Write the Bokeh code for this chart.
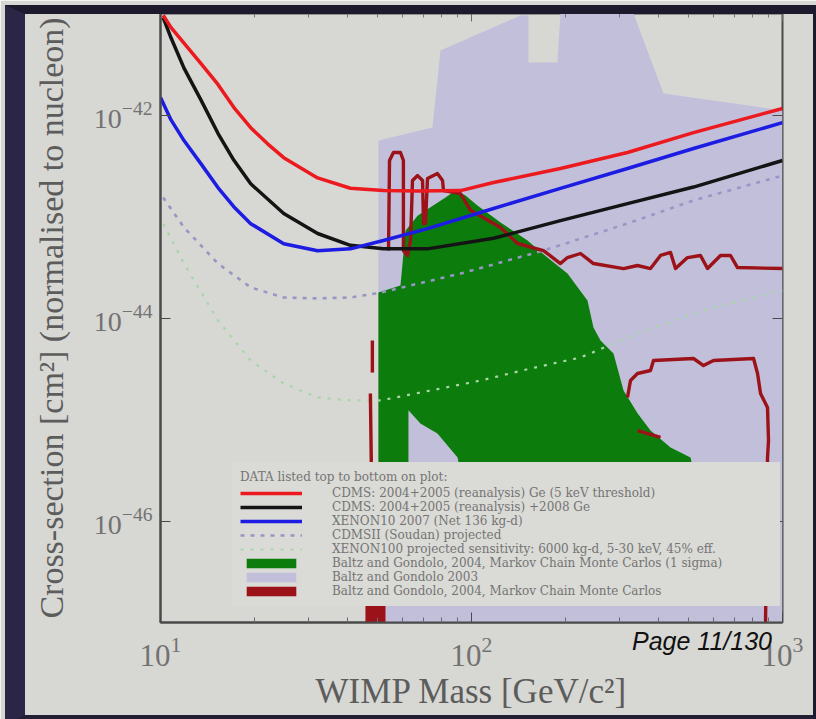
from bokeh.plotting import figure
from bokeh.layouts import column
from bokeh.models import (LogAxis, FixedTicker, Legend, LegendItem, Range1d,
                          CustomJSTickFormatter, Div)
from bokeh.embed import file_html
from bokeh.resources import INLINE

# ---------------- data (WIMP mass in GeV/c^2, cross-section in cm^2) ----------------
x_ticks = [10, 100, 1000]
x_minor = [20, 30, 40, 50, 60, 70, 80, 90, 200, 300, 400, 500, 600, 700, 800, 900]
y_ticks = [1e-46, 1e-44, 1e-42]

# CDMS 2004+2005 (reanalysis) Ge (5 keV threshold) - red
red_mass = [10.2, 10.8, 11.9, 13.5, 15.3, 17.2, 19.5, 22.1, 24.9, 32.0, 40.8, 52.1,
            67.1, 92.2, 117.7, 193.2, 317.4, 517.4, 1000]
red_xsec = [9.6e-42, 7.3e-42, 5.1e-42, 3.2e-42, 2.0e-42, 1.19e-42, 7.5e-43, 5.2e-43,
            3.8e-43, 2.4e-43, 1.9e-43, 1.8e-43, 1.78e-43, 1.8e-43, 2.16e-43, 2.97e-43,
            4.27e-43, 6.7e-43, 1.16e-42]

# CDMS 2004+2005 (reanalysis) + 2008 Ge - black
black_mass = [10.2, 10.8, 11.9, 13.5, 15.3, 17.2, 19.5, 24.9, 32.0, 40.8, 52.1, 72.2,
              117.7, 193.2, 317.4, 517.4, 1000]
black_xsec = [9.1e-42, 5.8e-42, 2.9e-42, 1.4e-42, 6.6e-43, 3.6e-43, 2.1e-43, 1.07e-43,
              6.8e-44, 5.2e-44, 4.8e-44, 4.8e-44, 6.1e-44, 9.1e-44, 1.34e-43, 1.95e-43,
              3.56e-43]

# XENON10 2007 (Net 136 kg-d) - blue
blue_mass = [10.0, 10.8, 11.9, 13.5, 15.3, 17.2, 19.5, 24.9, 32.0, 40.8, 52.1, 72.2,
             117.7, 193.2, 317.4, 517.4, 1000]
blue_xsec = [1.49e-42, 9.0e-43, 5.6e-43, 3.3e-43, 1.93e-43, 1.25e-43, 8.5e-44, 5.4e-44,
             4.6e-44, 4.8e-44, 5.8e-44, 7.6e-44, 1.2e-43, 1.89e-43, 2.97e-43, 4.68e-43,
             8.4e-43]

# CDMSII (Soudan) projected - dotted
cdms_proj_mass = [10.2, 11.9, 15.3, 19.5, 24.9, 32.0, 40.8, 51.0, 92.2, 170.4, 317.4,
                  517.4, 1000]
cdms_proj_xsec = [1.54e-43, 7.8e-44, 3.44e-44, 2.0e-44, 1.59e-44, 1.56e-44, 1.59e-44,
                  1.78e-44, 2.74e-44, 4.62e-44, 8.53e-44, 1.44e-43, 2.53e-43]

# XENON100 projected sensitivity - green dotted
xenon100_mass = [10.2, 11.9, 15.3, 19.5, 24.9, 32.0, 40.8, 51.0, 73.8, 106.9, 154.8,
                 224.1, 341.8, 557.2, 1000]
xenon100_xsec = [8.5e-44, 3.44e-44, 9.45e-45, 3.81e-45, 2.26e-45, 1.65e-45, 1.54e-45,
                 1.54e-45, 1.93e-45, 2.42e-45, 3.18e-45, 4.08e-45, 7.04e-45, 1.19e-44,
                 1.87e-44]

# Baltz and Gondolo 2003 - lavender region
bg2003_mass = [50.2, 50.2, 74.9, 79.5, 143.8, 152.5, 152.5, 189.0, 193.2, 331.8, 414.4,
               1000, 1000]
bg2003_xsec = [1e-47, 5.61e-43, 7.53e-43, 4.32e-42, 9.56e-42, 9.56e-42, 3.29e-42,
               3.29e-42, 1e-41, 1e-41, 1.63e-42, 1.11e-42, 1e-47]

# Baltz and Gondolo 2004, MCMC (1 sigma) - green region
bg2004_1s_mass = [50.2, 50.2, 59.1, 61.4, 67.1, 73.8, 82.5, 88.8, 95.7, 104.5, 124.0,
                  151.4, 175.5, 203.5, 236.0, 246.7, 259.9, 286.1, 308.2, 341.8, 376.3,
                  436.5, 506.0, 565.5, 99.3, 90.2, 77.7, 68.5, 62.7, 62.7]
bg2004_1s_xsec = [1.01e-46, 1.78e-44, 2.09e-44, 7.28e-44, 1.02e-43, 1.23e-43, 1.54e-43,
                  1.80e-43, 1.61e-43, 1.28e-43, 8.73e-44, 5.80e-44, 3.94e-44, 2.74e-44,
                  1.49e-44, 8.06e-45, 6.00e-45, 4.47e-45, 1.93e-45, 1.15e-45, 7.79e-46,
                  5.30e-46, 4.22e-46, 1.01e-46, 1.01e-46, 4.22e-46, 7.28e-46, 9.13e-46,
                  1.23e-45, 1.01e-46]

# Baltz and Gondolo 2004, MCMC - dark red contours and filled piece
mcmc_a_mass = [54.1, 54.5, 56.1, 59.1, 60.4, 60.4, 62.3, 63.7, 64.6, 67.1, 69.6, 70.1,
               71.1, 72.2, 77.7, 80.7, 81.3, 92.2, 99.3, 124.0, 140.6, 170.4, 193.2,
               203.5, 224.1, 246.7, 308.2, 341.8, 376.3, 405.3, 436.5, 452.9, 494.9,
               544.9, 574.0, 631.9, 680.5, 716.7, 1000]
mcmc_a_xsec = [4.62e-44, 3.56e-43, 4.27e-43, 4.27e-43, 3.56e-43, 4.62e-44, 4.13e-44,
               5.80e-44, 2.26e-43, 2.53e-43, 2.26e-43, 8.53e-44, 8.53e-44, 2.37e-43,
               2.65e-43, 2.26e-43, 1.80e-43, 1.68e-43, 1.15e-43, 7.79e-44, 5.42e-44,
               4.62e-44, 3.44e-44, 3.94e-44, 4.32e-44, 3.44e-44, 3.07e-44, 3.29e-44,
               3.07e-44, 4.13e-44, 4.42e-44, 3.07e-44, 3.94e-44, 4.13e-44, 3.07e-44,
               4.13e-44, 4.13e-44, 3.14e-44, 3.07e-44]
mcmc_b1_mass = [48.0, 48.0]
mcmc_b1_xsec = [6.0e-45, 2.9e-45]
mcmc_b2_mass = [47.3, 47.6, 48.0]
mcmc_b2_xsec = [1.8e-45, 4.2e-46, 1e-47]
mcmc_c_mass = [317.4, 324.5, 341.8, 376.3, 384.8, 517.4, 557.2, 600.1, 807.1, 831.3,
               849.9, 895.0, 901.6, 895.0, 881.9]
mcmc_c_xsec = [1.65e-45, 2.42e-45, 2.84e-45, 3.04e-45, 3.81e-45, 3.99e-45, 3.40e-45,
               3.81e-45, 3.99e-45, 2.84e-45, 1.80e-45, 1.31e-45, 6.21e-46, 4.22e-46,
               1e-47]
mcmc_d_mass = [341.8, 405.3]
mcmc_d_xsec = [7.79e-46, 6.65e-46]
mcmc_fill_mass = [45.6, 45.6, 52.9, 52.9]
mcmc_fill_xsec = [1e-47, 1.5e-47, 1.5e-47, 1e-47]

legend_title = "DATA listed top to bottom on plot:"
labels = [
    "CDMS: 2004+2005 (reanalysis) Ge (5 keV threshold)",
    "CDMS: 2004+2005 (reanalysis) +2008 Ge",
    "XENON10 2007 (Net 136 kg-d)",
    "CDMSII (Soudan) projected",
    "XENON100 projected sensitivity: 6000 kg-d, 5-30 keV, 45% eff.",
    "Baltz and Gondolo, 2004, Markov Chain Monte Carlos (1 sigma)",
    "Baltz and Gondolo 2003",
    "Baltz and Gondolo, 2004, Markov Chain Monte Carlos",
]
page_text = "Page 11/130"

# ---------------- styling ----------------
PAPER = "#d7d7d3"
LAVENDER = "#c2bfdb"
GREEN = "#0c7c0c"
DARKRED = "#9c1219"
RED = "#ec1a1e"
BLUE = "#1c1ce2"
BLACK = "#141414"
SERIF = "Liberation Serif"
W, H = 816, 719

p = figure(width=W, height=H, x_axis_type="log", y_axis_type="log",
           x_range=Range1d(10, 1000), y_range=Range1d(1e-47, 1e-41),
           output_backend="svg", toolbar_location=None,
           min_border_left=160, min_border_right=34, min_border_top=13,
           min_border_bottom=97)
p.border_fill_color = PAPER
p.background_fill_color = PAPER
p.outline_line_color = "#4a4a4a"
p.outline_line_width = 2
p.grid.visible = False

# regions
r_lav = p.patch(bg2003_mass, bg2003_xsec, fill_color=LAVENDER, line_color=None)
r_green = p.patch(bg2004_1s_mass, bg2004_1s_xsec, fill_color=GREEN, line_color=None)

# projected (dotted)
r_x100 = p.line(xenon100_mass, xenon100_xsec, line_color="#a9d6a9", line_width=2.2,
                line_dash="3 7")
r_cproj = p.line(cdms_proj_mass, cdms_proj_xsec, line_color="#9797c6", line_width=2.6,
                 line_dash="4 6")

# MCMC contours
r_mcmc = p.multi_line(
    [mcmc_a_mass, mcmc_b1_mass, mcmc_b2_mass, mcmc_c_mass, mcmc_d_mass],
    [mcmc_a_xsec, mcmc_b1_xsec, mcmc_b2_xsec, mcmc_c_xsec, mcmc_d_xsec],
    line_color=DARKRED, line_width=3.4, line_join="round")
r_mcmc_fill = p.patch(mcmc_fill_mass, mcmc_fill_xsec, fill_color=DARKRED, line_color=None)

# limits
r_black = p.line(black_mass, black_xsec, line_color=BLACK, line_width=3.5)
r_blue = p.line(blue_mass, blue_xsec, line_color=BLUE, line_width=3.5)
r_red = p.line(red_mass, red_xsec, line_color=RED, line_width=3.5)

# axes
p.xaxis.ticker = FixedTicker(ticks=x_ticks, minor_ticks=x_minor)
p.yaxis.ticker = FixedTicker(ticks=y_ticks, minor_ticks=[])
for ax in (p.xaxis[0], p.yaxis[0]):
    ax.axis_line_color = "#4a4a4a"
    ax.axis_line_width = 2
    ax.major_tick_in = 10
    ax.major_tick_out = 0
    ax.minor_tick_in = 5
    ax.minor_tick_out = 0
    ax.major_tick_line_color = "#4a4a4a"
    ax.minor_tick_line_color = "#6a6a6a"
    ax.major_label_text_font = SERIF
    ax.major_label_text_color = "#727272"
    ax.axis_label_text_font = SERIF
    ax.axis_label_text_font_style = "normal"
    ax.axis_label_text_color = "#5c5c5c"
p.xaxis.major_label_text_font_size = "31px"
p.yaxis.major_label_text_font_size = "28px"
p.xaxis.axis_label_text_font_size = "35px"
p.yaxis.axis_label_text_font_size = "34px"
p.xaxis.axis_label = "WIMP Mass [GeV/c²]"
p.yaxis.axis_label = "Cross-section [cm²] (normalised to nucleon)"
p.xaxis.major_label_standoff = 14
p.xaxis.axis_label_standoff = 3
p.yaxis.major_label_standoff = 8
p.yaxis.axis_label_standoff = 21

blank = CustomJSTickFormatter(code="return ''")
top_ax = LogAxis(ticker=FixedTicker(ticks=x_ticks, minor_ticks=x_minor),
                 formatter=blank, major_label_standoff=0,
                 major_tick_in=8, major_tick_out=0, minor_tick_in=4, minor_tick_out=0,
                 axis_line_color=None, major_tick_line_color="#6a6a6a",
                 minor_tick_line_color="#7a7a7a")
right_ax = LogAxis(ticker=FixedTicker(ticks=y_ticks, minor_ticks=[]),
                   formatter=blank, major_label_standoff=0,
                   major_tick_in=10, major_tick_out=0, minor_tick_in=0, minor_tick_out=0,
                   axis_line_color=None, major_tick_line_color="#4a4a4a")
p.add_layout(top_ax, "above")
p.add_layout(right_ax, "right")

# legend
items = [
    LegendItem(label=labels[0], renderers=[r_red]),
    LegendItem(label=labels[1], renderers=[r_black]),
    LegendItem(label=labels[2], renderers=[r_blue]),
    LegendItem(label=labels[3], renderers=[r_cproj]),
    LegendItem(label=labels[4], renderers=[r_x100]),
    LegendItem(label=labels[5], renderers=[r_green]),
    LegendItem(label=labels[6], renderers=[r_lav]),
    LegendItem(label=labels[7], renderers=[r_mcmc_fill]),
]
legend = Legend(items=items, location=(72, 16), title=legend_title,
                title_text_font="DejaVu Serif", title_text_font_size="12px",
                title_text_font_style="normal", title_text_color="#747474",
                title_standoff=2,
                label_text_font="DejaVu Serif", label_text_font_size="12px",
                label_text_color="#747474", label_width=440,
                glyph_width=62, glyph_height=12, label_height=12, spacing=0,
                label_standoff=30, padding=8, margin=0,
                background_fill_color="#dadad6", background_fill_alpha=1.0,
                border_line_alpha=0)
p.add_layout(legend)

# dark slide surround (overlay, no layout space)
surround = Div(text="", width=W, height=H, styles={
    "position": "absolute", "left": "0px", "top": "0px", "box-sizing": "border-box",
    "border-left": "20px solid #2b2646", "border-top": "9px solid #1d1a2e",
    "border-right": "8px solid #1d1a2e", "border-bottom": "9px solid #221e34",
    "pointer-events": "none", "z-index": "5"})

# page stamp (overlay, real text)
stamp = Div(text=page_text, styles={
    "position": "absolute", "left": "632px", "top": "624px", "margin": "0",
    "padding": "0", "white-space": "nowrap", "font-family": "'Liberation Sans', Arial",
    "font-style": "italic", "font-size": "25px", "color": "#111111", "z-index": "6"})

layout = column(p, surround, stamp)

open("out.html", "w").write(file_html(layout, INLINE))
